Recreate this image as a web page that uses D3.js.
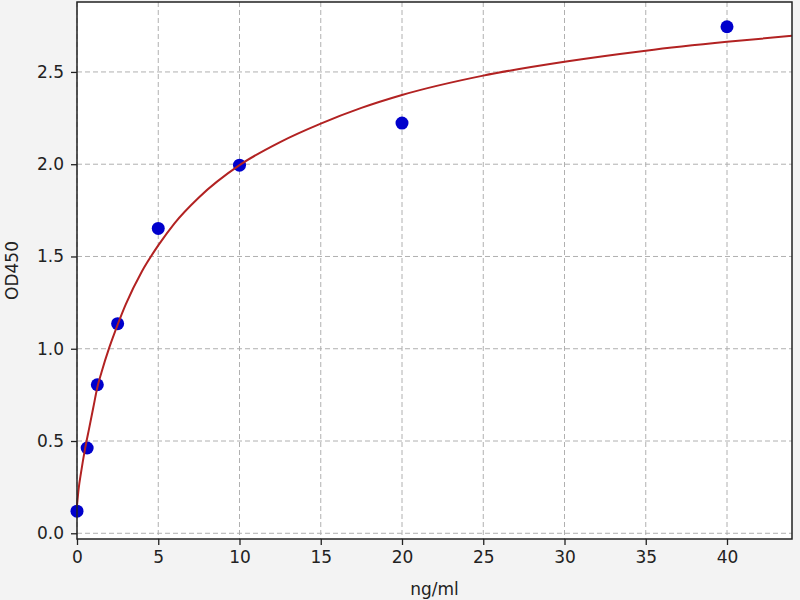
<!DOCTYPE html>
<html>
<head>
<meta charset="utf-8">
<script src="https://cdn.jsdelivr.net/npm/d3@7"></script>
<style>
  html, body { margin: 0; padding: 0; background: #f3f3f3; }
  svg { display: block; }
  text { font-family: "DejaVu Sans", sans-serif; fill: #222; }
</style>
</head>
<body>
<svg id="chart" width="800" height="600"></svg>
<script>
// standard points (ng/ml vs OD450)
var conc = [0, 0.625, 1.25, 2.5, 5, 10, 20, 40];
var od = [0.12, 0.462, 0.805, 1.136, 1.652, 1.995, 2.223, 2.745];

// fitted curve
var fitX = [0, 0.1, 0.25, 0.5, 0.75, 1, 1.25, 1.5, 2, 2.5, 3, 4, 5, 6, 7.5, 10,
            12.5, 15, 17.5, 20, 25, 30, 35, 40, 44];
var fitY = [0.15, 0.24, 0.33, 0.46, 0.57, 0.68, 0.79, 0.87, 1.01, 1.13, 1.24, 1.42,
            1.56, 1.68, 1.82, 1.995, 2.12, 2.22, 2.305, 2.375, 2.48, 2.555, 2.615,
            2.663, 2.696];

var xTicks = [0, 5, 10, 15, 20, 25, 30, 35, 40];
var yTicks = [0.0, 0.5, 1.0, 1.5, 2.0, 2.5];

(function() {
    'use strict';

    // plot box in pixels ("top" is taken by window, so pl/pr/pt/pb)
    var pl = 77, pr = 792, pt = 2, pb = 539;

    var svg = d3.select('#chart');

    var x = d3.scaleLinear().domain([0, 44]).range([pl, pr]);
    var y = d3.scaleLinear().domain([-0.031, 2.879]).range([pb, pt]);

    // plot area
    svg.append('rect')
        .attr('x', pl).attr('y', pt)
        .attr('width', pr - pl).attr('height', pb - pt)
        .style('fill', '#fff');

    // grid
    var grid = svg.append('g')
        .style('stroke', '#b0b0b0')
        .style('stroke-width', 1)
        .style('stroke-dasharray', '5,3');

    grid.selectAll('line.gx')
        .data(xTicks)
        .enter()
        .append('line')
        .attr('class', 'gx')
        .attr('x1', function(d) { return x(d); })
        .attr('x2', function(d) { return x(d); })
        .attr('y1', pt).attr('y2', pb);

    grid.selectAll('line.gy')
        .data(yTicks)
        .enter()
        .append('line')
        .attr('class', 'gy')
        .attr('y1', function(d) { return y(d); })
        .attr('y2', function(d) { return y(d); })
        .attr('x1', pl).attr('x2', pr);

    // points first, curve over them
    var pts = conc.map(function(c, i) { return [c, od[i]]; });
    svg.append('g').selectAll('circle')
        .data(pts)
        .enter()
        .append('circle')
        .attr('cx', function(d) { return x(d[0]); })
        .attr('cy', function(d) { return y(d[1]); })
        .attr('r', 6.5)
        .style('fill', '#0000cc');

    var fit = fitX.map(function(v, i) { return [v, fitY[i]]; });
    var line = d3.line()
        .x(function(d) { return x(d[0]); })
        .y(function(d) { return y(d[1]); })
        .curve(d3.curveMonotoneX);

    svg.append('path')
        .datum(fit)
        .attr('d', line)
        .style('fill', 'none')
        .style('stroke', '#b22222')
        .style('stroke-width', 2);

    // axes
    var xAxis = svg.append('g')
        .attr('transform', 'translate(0,' + pb + ')')
        .call(d3.axisBottom(x).tickValues(xTicks).tickSize(6).tickPadding(6)
            .tickFormat(d3.format('d')));

    var yAxis = svg.append('g')
        .attr('transform', 'translate(' + pl + ',0)')
        .call(d3.axisLeft(y).tickValues(yTicks).tickSize(6).tickPadding(7)
            .tickFormat(d3.format('.1f')));

    [xAxis, yAxis].forEach(function(a) {
        a.select('.domain').remove();
        a.selectAll('line').style('stroke', '#222').style('stroke-width', 1.3);
        a.selectAll('text').style('font-size', '17px').style('fill', '#222')
            .style('font-family', '"DejaVu Sans", sans-serif');
    });

    // frame
    svg.append('rect')
        .attr('x', pl).attr('y', pt)
        .attr('width', pr - pl).attr('height', pb - pt)
        .style('fill', 'none')
        .style('stroke', '#222')
        .style('stroke-width', 1.5);

    // labels
    svg.append('text')
        .attr('x', (pl + pr) / 2)
        .attr('y', 595)
        .style('text-anchor', 'middle')
        .style('font-size', '17px')
        .text('ng/ml');

    svg.append('text')
        .attr('transform', 'translate(18,' + ((pt + pb) / 2) + ') rotate(-90)')
        .style('text-anchor', 'middle')
        .style('font-size', '17px')
        .text('OD450');
})();
</script>
</body>
</html>
